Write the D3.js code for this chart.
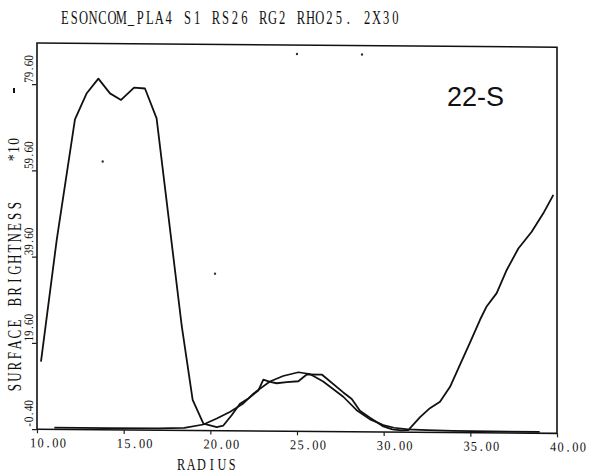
<!DOCTYPE html>
<html>
<head>
<meta charset="utf-8">
<script src="https://cdn.jsdelivr.net/npm/d3@7"></script>
<style>
  html, body { margin: 0; padding: 0; background: #fff; }
  svg { display: block; }
</style>
</head>
<body>
<div id="chart"></div>
<script>
// ---------- data ----------
const titleText = "ESONCOM_PLA4 S1 RS26 RG2 RHO25. 2X30";
const xTicks = [10, 15, 20, 25, 30, 35, 40];
const xTickLabels = ["10.00", "15.00", "20.00", "25.00", "30.00", "35.00", "40.00"];
const yTicks = [-0.4, 19.6, 39.6, 59.6, 79.6];
const yTickLabels = ["-0.40", "19.60", "39.60", "59.60", "79.60"];

// observed surface-brightness profile
const obsRadius = [10.23, 11.14, 12.19, 12.87, 13.54, 14.21, 14.85, 15.6, 16.23, 16.9,
  18.35, 18.98, 19.6, 20.37, 20.75, 21.23, 21.71, 22.19, 22.77, 23.06, 23.44, 23.83,
  24.41, 25.08, 25.56, 26.43, 27.67, 28.16, 28.63, 29.21, 29.98, 30.5, 31.0, 31.42,
  32.1, 32.67, 33.25, 33.83, 34.4, 34.98, 35.56, 35.94, 36.52, 37.1, 37.77, 38.54,
  39.21, 39.79];
const obsValue = [15.3, 43.6, 71.5, 77.6, 81.0, 77.6, 76.1, 79.0, 78.8, 71.9,
  23.8, 6.7, 1.2, 0.4, 0.8, 3.2, 5.9, 7.1, 9.0, 11.5, 11.0, 10.7,
  11.0, 11.2, 12.8, 12.8, 8.7, 7.2, 4.5, 2.9, 0.9, 0.2, 0.0, 0.1,
  3.1, 5.2, 6.7, 10.2, 15.3, 20.5, 25.8, 28.9, 32.0, 37.4, 42.4, 46.3,
  50.6, 54.9];

// model (fitted) profile
const modelRadius = [11.0, 14.0, 17.0, 18.5, 19.6, 20.37, 21.15, 21.92, 22.5, 23.44,
  24.2, 25.08, 25.74, 26.51, 27.67, 28.44, 29.21, 29.98, 30.6, 31.4, 32.5, 34.0, 39.0];
const modelValue = [0.0, 0.0, 0.0, 0.2, 1.0, 2.4, 4.0, 6.0, 8.3, 11.1,
  12.4, 13.3, 12.9, 11.2, 7.7, 4.6, 2.5, 1.2, 0.6, 0.25, 0.1, 0.0, -0.1];

// stray specks on the original plot
const speckRadius = [13.79, 20.27, 25.0, 28.75];
const speckValue = [61.8, 36.0, 87.1, 87.1];

// ---------- drawing ----------
const W = 605, H = 476;
const svg = d3.select("#chart").append("svg").attr("width", W).attr("height", H);
const serif = "'Liberation Serif', 'DejaVu Serif', serif";
const ink = "#111";

// typewriter-style text: every character in a fixed-pitch cell
function typeText(parent, str, transform, pitch, size, sx, weight) {
  const grp = parent.append("g").attr("transform", transform + ` scale(${sx},1)`);
  const xs = Array.from(str, (c, i) => ((i + 0.5) * pitch / sx).toFixed(2)).join(" ");
  grp.append("text")
    .attr("x", xs).attr("y", 0)
    .attr("text-anchor", "middle")
    .attr("font-family", serif).attr("font-size", size)
    .attr("font-weight", weight || "normal")
    .attr("fill", ink)
    .text(str);
  return grp;
}

const x = d3.scaleLinear().domain([10, 40]).range([37, 557]);
const y = d3.scaleLinear().domain([-0.4, 89.15]).range([429.2, 43]);

// title
typeText(svg, titleText, "translate(60,24)", 9.45, 19, 0.66);

// slight scan skew
const g = svg.append("g").attr("transform", "translate(37,0) skewY(0.46) translate(-37,0)");

// frame
g.append("rect")
  .attr("x", x(10)).attr("y", y(89.15))
  .attr("width", x(40) - x(10)).attr("height", y(-0.4) - y(89.15))
  .attr("fill", "none").attr("stroke", ink).attr("stroke-width", 1.6);

// x axis
const xAxis = d3.axisBottom(x).tickValues(xTicks).tickSize(4).tickFormat("");
const xa = g.append("g").attr("transform", `translate(0,${y(-0.4)})`).call(xAxis);
xa.select(".domain").remove();
xa.selectAll(".tick line").attr("stroke", "#222").attr("stroke-width", 1.2);
xa.selectAll(".tick").each(function (d, i) {
  typeText(d3.select(this), xTickLabels[i], "translate(-8,18)", 7.4, 13.5, 0.92);
});

// y axis
const yAxis = d3.axisLeft(y).tickValues(yTicks).tickSize(5).tickFormat("");
const ya = g.append("g").attr("transform", `translate(${x(10)},0)`).call(yAxis);
ya.select(".domain").remove();
ya.selectAll(".tick line").attr("stroke", "#222").attr("stroke-width", 1.2);
ya.selectAll(".tick").each(function (d, i) {
  typeText(d3.select(this), yTickLabels[i], "translate(-4,-2) rotate(-90)", 5.5, 13, 0.85);
});

// curves
const obs = obsRadius.map((r, i) => [r, obsValue[i]]);
const model = modelRadius.map((r, i) => [r, modelValue[i]]);
const line = d3.line().x(d => x(d[0])).y(d => y(d[1]));

g.append("path").datum(model).attr("d", line)
  .attr("fill", "none").attr("stroke", ink).attr("stroke-width", 1.7)
  .attr("stroke-linejoin", "round");
g.append("path").datum(obs).attr("d", line)
  .attr("fill", "none").attr("stroke", ink).attr("stroke-width", 1.8)
  .attr("stroke-linejoin", "round");

// specks
g.selectAll("circle.speck").data(speckRadius).enter().append("circle")
  .attr("class", "speck")
  .attr("cx", d => x(d)).attr("cy", (d, i) => y(speckValue[i]))
  .attr("r", 1.2).attr("fill", "#333");

// "22-S" annotation
svg.append("text")
  .attr("x", 447).attr("y", 106)
  .attr("font-family", "'Liberation Sans', Arial, sans-serif")
  .attr("font-size", 27).attr("fill", ink)
  .text("22-S");

// x axis title
typeText(svg, "RADIUS", "translate(176,470)", 10.2, 17, 0.72);

// y axis title
typeText(svg, "SURFACE BRIGHTNESS", "translate(20.5,393) rotate(-90)", 10.7, 18, 0.72);
typeText(svg, "*10", "translate(19,162) rotate(-90)", 8.3, 16, 0.85);

// small stray mark near the top of the y label
svg.append("line")
  .attr("x1", 14).attr("x2", 14).attr("y1", 88).attr("y2", 93)
  .attr("stroke", ink).attr("stroke-width", 2);
</script>
</body>
</html>
